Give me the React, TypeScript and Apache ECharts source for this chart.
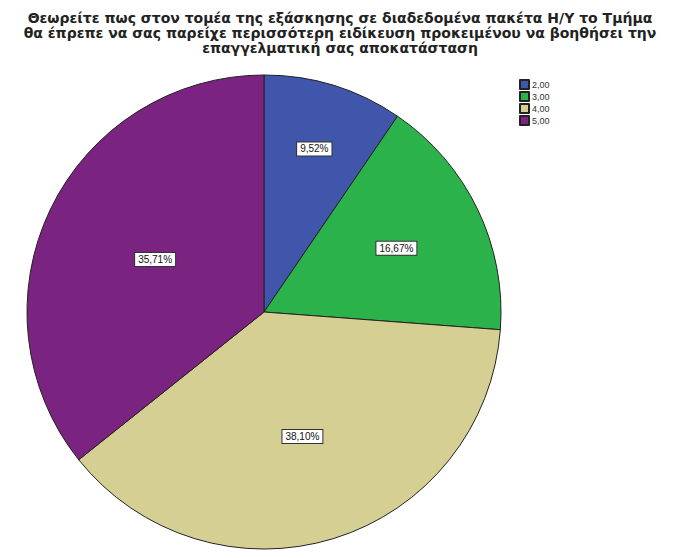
import React, { useEffect, useRef } from "react";
import * as echarts from "echarts";

const titleLines = [
  "Θεωρείτε πως στον τομέα της εξάσκησης σε διαδεδομένα πακέτα Η/Υ το Τμήμα",
  "θα έπρεπε να σας παρείχε περισσότερη ειδίκευση προκειμένου να βοηθήσει την",
  "επαγγελματική σας αποκατάσταση",
];
const categories = ["2,00", "3,00", "4,00", "5,00"];
const counts = [4, 7, 16, 15];
const percentLabels = ["9,52%", "16,67%", "38,10%", "35,71%"];
const colors = ["#3f56aa", "#2cb24a", "#d5cf94", "#7a2380"];
// radial placement of each percentage box (fraction of radius), as in the source
const labelRadiusFactor = [0.72, 0.62, 0.55, 0.51];

const CX = 264;
const CY = 312;
const R = 237;

export default function App() {
  const ref = useRef<HTMLDivElement>(null);
  useEffect(() => {
    document.body.style.margin = "0";
    const chart = echarts.init(ref.current!, null, { renderer: "svg" });
    const total = counts.reduce((a, b) => a + b, 0);
    const cum: number[] = [];
    let acc = 0;
    counts.forEach((c) => {
      cum.push(acc + c / 2);
      acc += c;
    });
    chart.setOption({
      animation: false,
      backgroundColor: "#ffffff",
      title: {
        text: titleLines.join("\n"),
        left: "center",
        top: 5,
        textStyle: {
          fontFamily: "DejaVu Sans",
          fontWeight: "bold",
          fontSize: 14,
          lineHeight: 15,
          color: "#222",
        },
      },
      legend: {
        orient: "vertical",
        left: 514,
        top: 74,
        itemWidth: 9,
        itemHeight: 9,
        itemGap: 1,
        icon: "rect",
        data: categories,
        textStyle: {
          fontSize: 9,
          lineHeight: 11,
          color: "#333",
          fontFamily: "Liberation Sans",
          padding: [0, 0, 0, -2],
        },
      },
      series: [
        {
          type: "pie",
          center: [CX, CY],
          radius: R,
          startAngle: 90,
          clockwise: true,
          color: colors,
          itemStyle: { borderColor: "#222", borderWidth: 1 },
          emphasis: { disabled: true },
          label: {
            show: true,
            position: "inside",
            formatter: (p: any) => percentLabels[p.dataIndex],
            backgroundColor: "#ffffff",
            borderColor: "#333",
            borderWidth: 1,
            padding: [2, 3, 1, 3],
            color: "#111",
            fontSize: 10,
            fontFamily: "Liberation Sans",
          },
          labelLayout: (p: any) => {
            const i = p.dataIndex;
            const theta = (cum[i] / total) * Math.PI * 2;
            const f = labelRadiusFactor[i] * R;
            return { x: CX + f * Math.sin(theta), y: CY - f * Math.cos(theta) };
          },
          data: categories.map((c, i) => ({ name: c, value: counts[i] })),
        },
      ],
    });
    return () => chart.dispose();
  }, []);
  return <div ref={ref} style={{ width: 680, height: 558 }} />;
}
